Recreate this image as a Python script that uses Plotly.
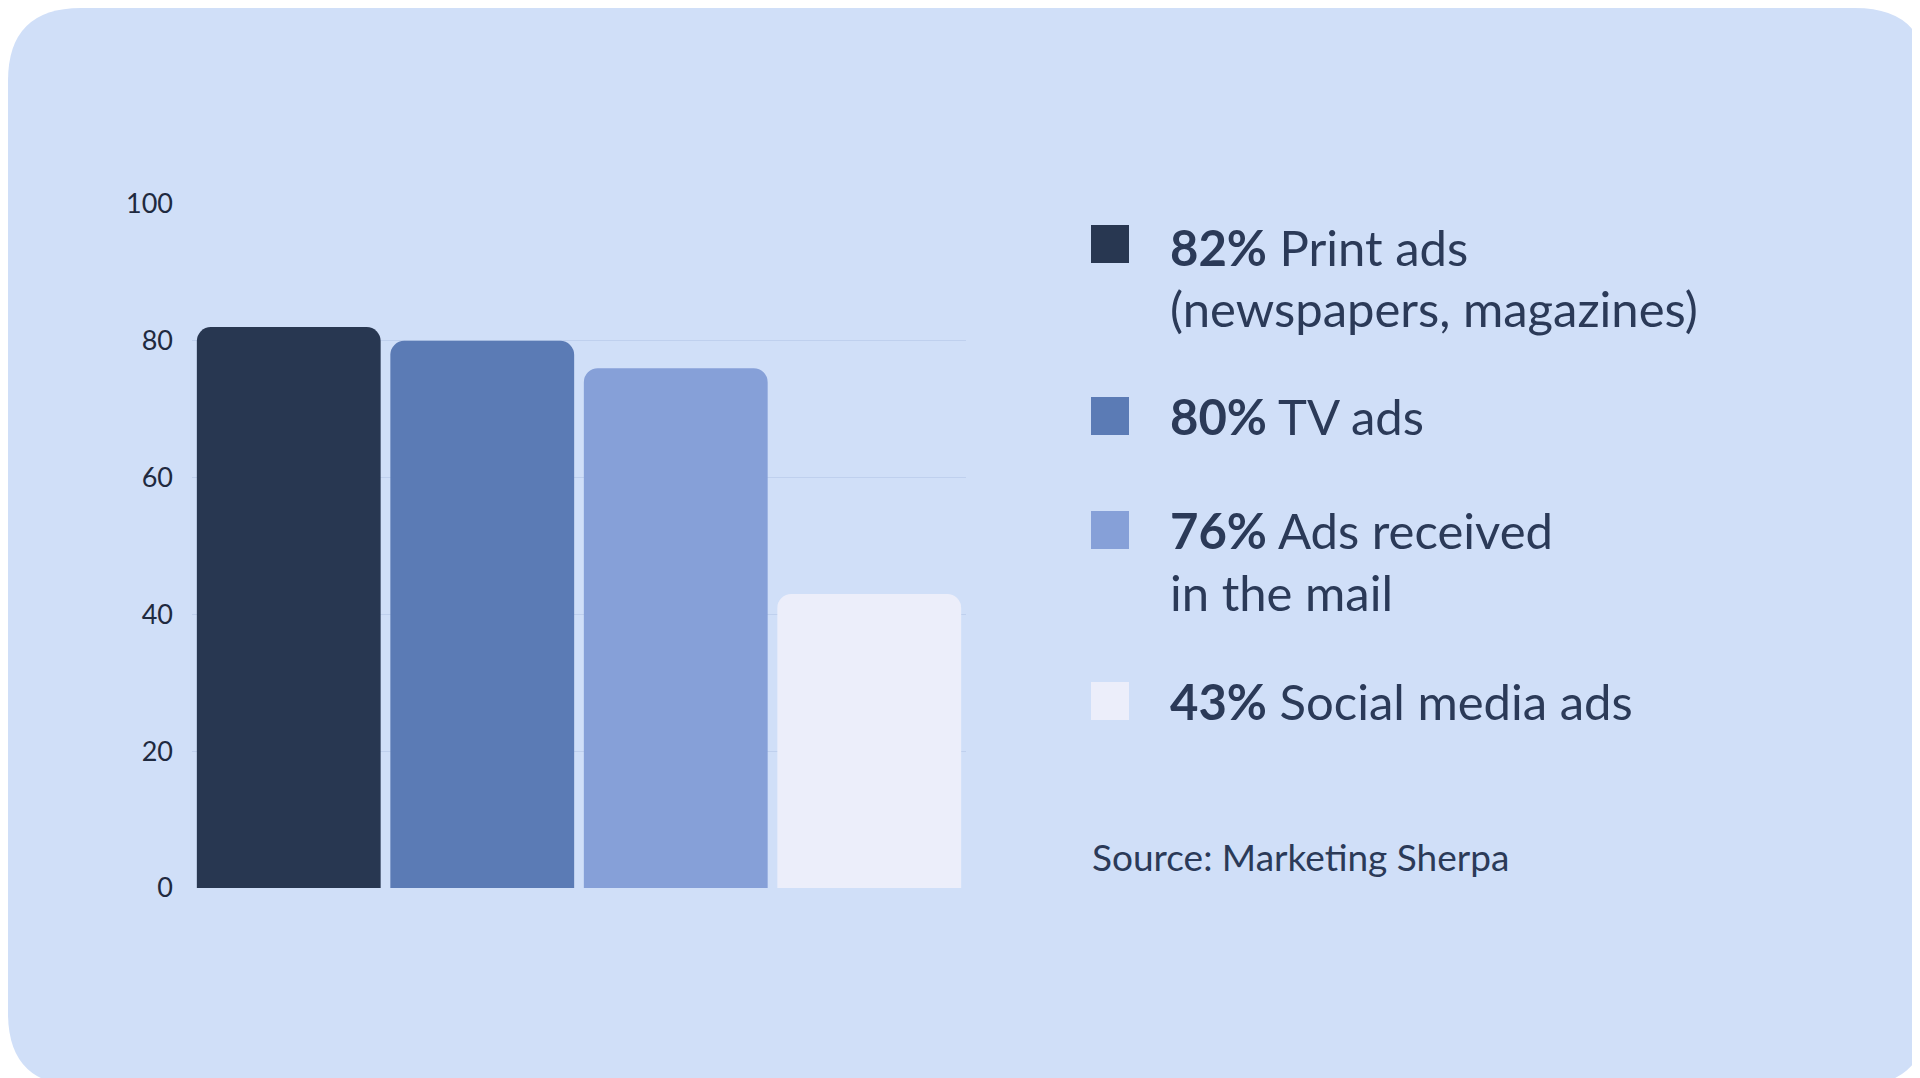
import plotly.graph_objects as go

categories = ["Print ads", "TV ads", "Ads received in the mail", "Social media ads"]
values = [82, 80, 76, 43]
colors = ["#283751", "#5B7BB5", "#86A0D8", "#ECEEFA"]
legend_lines = [
    ["<b>82%</b> Print ads", "(newspapers, magazines)"],
    ["<b>80%</b> TV ads"],
    ["<b>76%</b> Ads received", "in the mail"],
    ["<b>43%</b> Social media ads"],
]
source = "Source: Marketing Sherpa"

W, H = 1920, 1078
L, R, T, B = 184, 958, 196, 880  # plot area in pixels

def px(x):
    return (x - L) / (R - L)

def py(y):
    return (B - y) / (B - T)

fig = go.Figure()
fig.add_trace(go.Bar(x=categories, y=values, marker=dict(color=colors, cornerradius=14, line_width=0),
                     showlegend=False, hoverinfo="skip"))

# rounded card background
x0, x1, y0, y1 = px(0), px(W), py(H), py(0)
rx, ry = 73 / (R - L), 73 / (B - T)
path = (f"M {x0+rx},{y1} L {x1-rx},{y1} Q {x1},{y1} {x1},{y1-ry} L {x1},{y0+ry} Q {x1},{y0} {x1-rx},{y0} "
        f"L {x0+rx},{y0} Q {x0},{y0} {x0},{y0+ry} L {x0},{y1-ry} Q {x0},{y1} {x0+rx},{y1} Z")
shapes = [dict(type="path", path=path, xref="paper", yref="paper", fillcolor="#D0DFF8",
               line_width=0, layer="below")]

annotations = []
square_y = [236, 408, 522, 693]
line_y = [[239, 300], [408], [522, 584], [693]]
for i, lines in enumerate(legend_lines):
    cy = square_y[i]
    shapes.append(dict(type="rect", xref="paper", yref="paper", x0=px(1083), x1=px(1121),
                       y0=py(cy + 19), y1=py(cy - 19), fillcolor=colors[i], line_width=0))
    for j, t in enumerate(lines):
        annotations.append(dict(text=t, x=px(1160), y=py(line_y[i][j]), xref="paper", yref="paper",
                                xanchor="left", yanchor="middle", showarrow=False,
                                font=dict(size=49, color="#2B3A58", family="Lato")))
annotations.append(dict(text=source, x=px(1082), y=py(848), xref="paper", yref="paper",
                        xanchor="left", yanchor="middle", showarrow=False,
                        font=dict(size=37, color="#2B3A58", family="Lato")))

fig.update_layout(
    width=W, height=H,
    margin=dict(l=L, r=W - R, t=T, b=H - B),
    paper_bgcolor="white", plot_bgcolor="rgba(0,0,0,0)",
    bargap=0.05,
    shapes=shapes, annotations=annotations,
    font=dict(family="Lato", color="#1F2A3F"),
    xaxis=dict(showticklabels=False, showgrid=False, zeroline=False),
    yaxis=dict(range=[0, 100], tickvals=[0, 20, 40, 60, 80, 100], showgrid=True, gridcolor="#BFD0EE",
               gridwidth=1, zeroline=False, tickfont=dict(size=27, color="#1F2A3F"), ticklabelstandoff=18),
)
fig.write_html("out.html")
